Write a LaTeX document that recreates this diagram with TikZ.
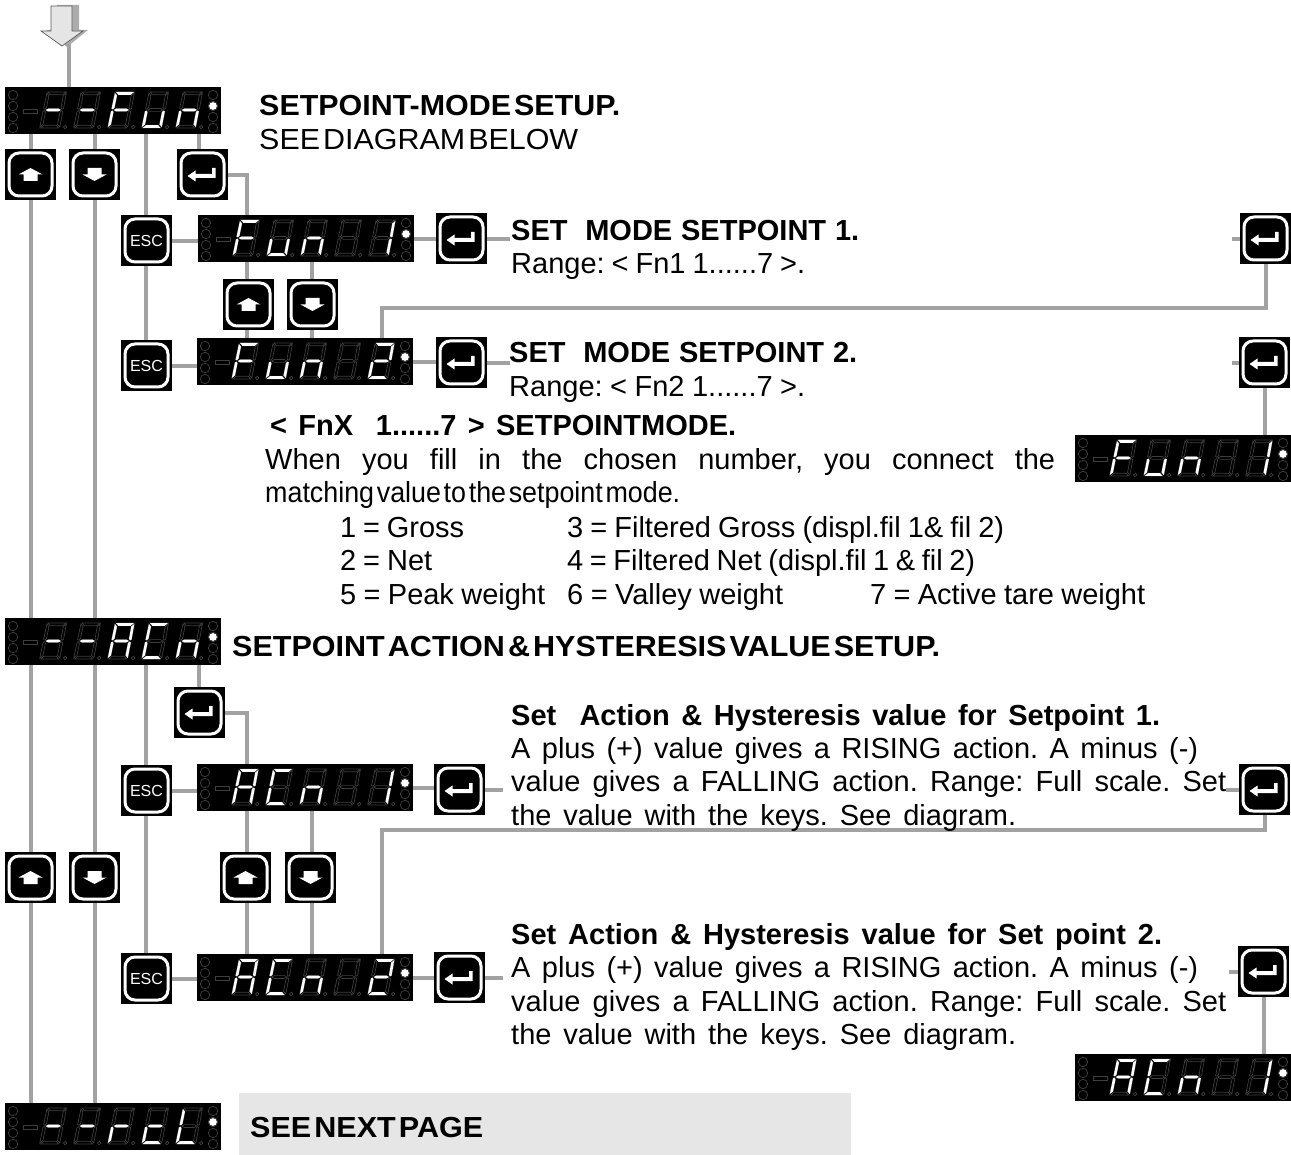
\documentclass[tikz,border=0pt]{standalone}
\usepackage{fontspec}
\usepackage{graphicx}
\setmainfont{Liberation Sans}
\definecolor{conn}{RGB}{162,162,162}
\definecolor{dimseg}{RGB}{62,62,62}
\definecolor{panel}{RGB}{230,230,230}
\tikzset{
  conn/.style={draw=conn,line width=4pt},
  dispbox/.style={fill=black,inner sep=0pt,minimum width=216pt,minimum height=47pt,anchor=north west},
  keybox/.style={fill=black,inner sep=0pt,minimum width=51pt,minimum height=51pt,anchor=north west},
  keyrim/.style={draw=white,line width=3pt,rounded corners=10pt},
  txt/.style={inner sep=0pt,anchor=base west,font=\fontsize{29}{34}\selectfont},
  dimline/.style={draw=dimseg,line width=.7pt},
  litseg/.style={fill=white}
}
\def\sega{(1.5,0)--(19.5,0)--(16.6,2.8)--(4.4,2.8)--cycle}
\def\segd{(0.5,36)--(18.5,36)--(15.6,33.2)--(3.4,33.2)--cycle}
\def\segg{(2.5,18)--(5,16.6)--(15,16.6)--(17.5,18)--(15,19.4)--(5,19.4)--cycle}
\def\segf{(0.6,1)--(3.1,3.6)--(2.8,15.8)--(1.5,17.3)--(0.1,16.6)--cycle}
\def\sege{(0,19.4)--(1.4,18.7)--(2.6,20.2)--(2.3,32.4)--(-0.4,35)--cycle}
\def\segb{(20,1)--(20,16.6)--(18.6,17.3)--(17.4,15.8)--(17.4,3.6)--cycle}
\def\segc{(19.8,19.4)--(19.6,35)--(16.9,32.4)--(17.1,20.2)--(18.2,18.7)--cycle}
\def\segx{(0,0)}
% name, left, top, digit list
\newcommand\dispunit[4]{%
  \node[dispbox] (#1) at (#2,#3) {};
  \begin{scope}[shift={(#2,#3)}]
    \foreach \ly in {8,19,30,41}{%
      \draw[dimline] (8,\ly) circle (4.7pt);
      \draw[dimline] (208,\ly) circle (4.7pt);
    }
    \fill[white] (208,19) circle (3.9pt);
    \draw[dimline] (18,22.5) rectangle (32,26);
    \foreach \dg [count=\di] in {#4}{%
      \begin{scope}[shift={(35+34*\di-34+6.5,5)},xslant=.18]
        \foreach \sn in {a,b,c,d,e,f,g}{\path[dimline] \csname seg\sn\endcsname;}
        \foreach \sn in \dg{\path[litseg] \csname seg\sn\endcsname;}
        \draw[dimline] (25,35) circle (1.8pt);
      \end{scope}
    }
  \end{scope}
}
% name, left, top, glyph
\newcommand\keyunit[4]{%
  \node[keybox] (#1) at (#2,#3) {};
  \begin{scope}[shift={(#2+25.5,#3+25.5)}]
    \draw[keyrim] (-21.5,-21.5) rectangle (21.5,21.5);
    #4
  \end{scope}
}
\newcommand\glyphup{\fill[white] (0,-6.5)--(12,0)--(7,0)--(7,6.5)--(-7,6.5)--(-7,0)--(-12,0)--cycle;}
\newcommand\glyphdown{\fill[white] (0,6.5)--(12,0)--(7,0)--(7,-6.5)--(-7,-6.5)--(-7,0)--(-12,0)--cycle;}
\newcommand\glyphenter{\fill[white] (-15,1.5)--(-7,-4)--(-7,-.5)--(9.5,-.5)--(9.5,-6.5)--(13,-6.5)--(13,3.5)--(-7,3.5)--(-7,7)--cycle;}
\newcommand\glyphesc{\node[inner sep=0pt,text=white,font=\fontsize{16}{16}\selectfont] at (0,0) {ESC};}
\newcommand\upkey[3]{\keyunit{#1}{#2}{#3}{\glyphup}}
\newcommand\downkey[3]{\keyunit{#1}{#2}{#3}{\glyphdown}}
\newcommand\enterkey[3]{\keyunit{#1}{#2}{#3}{\glyphenter}}
\newcommand\esckey[3]{\keyunit{#1}{#2}{#3}{\glyphesc}}
% name, x, baseline y, width, text: word gaps stretched to the width
\newcommand\tline[5]{\node[txt] (#1) at (#2,#3) {\makebox[#4pt][s]{\frenchspacing\spaceskip=.05em plus 1fil\relax #5}};}
% the same with tight word gaps, letters widened to the width
\newcommand\tfit[5]{\node[txt] (#1) at (#2,#3) {\resizebox{#4pt}{\height}{\frenchspacing\spaceskip=.1em\relax #5}};}
\begin{document}
\begin{tikzpicture}[x=1pt,y=-1pt]
\useasboundingbox (0,0) rectangle (1291,1155);
\fill[panel] (239,1093) rectangle (851,1155);
% entry arrow
\fill[gray!65] (57,5)--(79,5)--(79,30)--(88,30)--(67,47)--(46,30)--(57,30)--cycle;
\draw[draw=gray!70!black,fill=gray!20,line width=.7pt] (51,6)--(72,6)--(72,31)--(83,31)--(62,46)--(41,31)--(51,31)--cycle;
\coordinate (tip) at (69,44);
\coordinate (colesc) at (146,0);
\coordinate (colA) at (247,0);
\coordinate (colB) at (312,0);
\coordinate (colL) at (382,0);
\coordinate (colE) at (199,0);
% displays
\dispunit{dFun}{5}{87}{{g},{g},{a,e,f,g},{c,d,e},{c,e,g}}
\dispunit{dFunA}{198}{215}{{a,e,f,g},{c,d,e},{c,e,g},{x},{b,c}}
\dispunit{dFunB}{197}{338}{{a,e,f,g},{c,d,e},{c,e,g},{x},{a,b,g,e,d}}
\dispunit{dFunR}{1075}{435}{{a,e,f,g},{c,d,e},{c,e,g},{x},{b,c}}
\dispunit{dAcn}{5}{618}{{g},{g},{a,b,c,e,f,g},{a,d,e,f},{c,e,g}}
\dispunit{dAcnA}{197}{764}{{a,b,c,e,f,g},{a,d,e,f},{c,e,g},{x},{b,c}}
\dispunit{dAcnB}{197}{954}{{a,b,c,e,f,g},{a,d,e,f},{c,e,g},{x},{a,b,g,e,d}}
\dispunit{dAcnR}{1075}{1054}{{a,b,c,e,f,g},{a,d,e,f},{c,e,g},{x},{b,c}}
\dispunit{dRcl}{5}{1103}{{g},{g},{e,g},{d,e,g},{d,e,f}}
% keys
\upkey{kUa}{5}{149}
\downkey{kDa}{69}{149}
\enterkey{kEa}{177}{149}
\esckey{kXa}{121}{215}
\enterkey{kEb}{436}{213}
\upkey{kUb}{223}{279}
\downkey{kDb}{287}{279}
\esckey{kXb}{121}{340}
\enterkey{kEc}{436}{337}
\enterkey{kEd}{1240}{213}
\enterkey{kEe}{1239}{337}
\enterkey{kEf}{174}{687}
\esckey{kXc}{121}{765}
\enterkey{kEg}{434}{764}
\enterkey{kEh}{1239}{764}
\upkey{kUc}{5}{852}
\downkey{kDc}{69}{852}
\upkey{kUd}{220}{852}
\downkey{kDd}{285}{852}
\esckey{kXd}{121}{953}
\enterkey{kEi}{434}{952}
\enterkey{kEj}{1238}{946}
% connectors
\draw[conn] (tip) -- (dFun.north -| tip);
\foreach \ku/\kd/\ka/\kb in {kUa/kDa/dFun/dAcn,kUc/kDc/dAcn/dRcl}{%
  \draw[conn] (\ka.south -| \ku.center) -- (\ku.north);
  \draw[conn] (\ku.south) -- (\kb.north -| \ku.center);
  \draw[conn] (\ka.south -| \kd.center) -- (\kd.north);
  \draw[conn] (\kd.south) -- (\kb.north -| \kd.center);
}
\draw[conn] (dFun.south -| colesc) -- (kXa.north -| colesc);
\draw[conn] (kXa.south -| colesc) -- (kXb.north -| colesc);
\draw[conn] (dAcn.south -| colesc) -- (kXc.north -| colesc);
\draw[conn] (kXc.south -| colesc) -- (kXd.north -| colesc);
\draw[conn] (dFun.south -| colE) -- (kEa.north -| colE);
\draw[conn] (dAcn.south -| colE) -- (kEf.north -| colE);
\draw[conn] (kEa.east) -- (kEa.east -| colA) -- (dFunA.north -| colA);
\draw[conn] (kEf.east) -- (kEf.east -| colA) -- (dAcnA.north -| colA);
\draw[conn] (kXa.east) -- (kXa.east -| dFunA.west);
\draw[conn] (kXb.east) -- (kXb.east -| dFunB.west);
\draw[conn] (kXc.east) -- (kXc.east -| dAcnA.west);
\draw[conn] (kXd.east) -- (kXd.east -| dAcnB.west);
\draw[conn] (dFunA.east) -- (dFunA.east -| kEb.west);
\draw[conn] (dFunB.east) -- (dFunB.east -| kEc.west);
\draw[conn] (dAcnA.east) -- (dAcnA.east -| kEg.west);
\draw[conn] (dAcnB.east) -- (dAcnB.east -| kEi.west);
\coordinate (sEb) at (510,239);
\coordinate (sEc) at (510,362);
\coordinate (sEg) at (503,789);
\coordinate (sEi) at (503,977);
\coordinate (sEd) at (1232,239);
\coordinate (sEe) at (1232,362);
\coordinate (sEh) at (1226,789);
\coordinate (sEj) at (1229,971);
\draw[conn] (kEb.east) -- (kEb.east -| sEb);
\draw[conn] (kEc.east) -- (kEc.east -| sEc);
\draw[conn] (kEg.east) -- (kEg.east -| sEg);
\draw[conn] (kEi.east) -- (kEi.east -| sEi);
\draw[conn] (kEd.west) -- (kEd.west -| sEd);
\draw[conn] (kEe.west) -- (kEe.west -| sEe);
\draw[conn] (kEh.west) -- (kEh.west -| sEh);
\draw[conn] (kEj.west) -- (kEj.west -| sEj);
\coordinate (rowA) at (0,308);
\coordinate (rowB) at (0,830);
\draw[conn] (kEd.south) -- (kEd.south |- rowA) -- (colL |- rowA) -- (dFunB.north -| colL);
\draw[conn] (kEh.south) -- (kEh.south |- rowB) -- (colL |- rowB) -- (dAcnB.north -| colL);
\draw[conn] (kEe.south) -- (dFunR.north -| kEe.south);
\draw[conn] (kEj.south) -- (dAcnR.north -| kEj.south);
\draw[conn] (dFunA.south -| colA) -- (kUb.north -| colA);
\draw[conn] (kUb.south -| colA) -- (dFunB.north -| colA);
\draw[conn] (dFunA.south -| colB) -- (kDb.north -| colB);
\draw[conn] (kDb.south -| colB) -- (dFunB.north -| colB);
\draw[conn] (dAcnA.south -| colA) -- (kUd.north -| colA);
\draw[conn] (kUd.south -| colA) -- (dAcnB.north -| colA);
\draw[conn] (dAcnA.south -| colB) -- (kDd.north -| colB);
\draw[conn] (kDd.south -| colB) -- (dAcnB.north -| colB);
% texts
\tfit{t1}{259}{116}{361}{\bfseries SETPOINT-MODE SETUP.}
\tfit{t2}{259}{150}{319}{SEE DIAGRAM BELOW}
\tline{t3}{511}{241}{348}{\bfseries SET\ \ MODE SETPOINT 1.}
\tline{t4}{511}{274}{294}{Range: < Fn1 1......7 >.}
\tline{t5}{509}{363}{348}{\bfseries SET\ \ MODE SETPOINT 2.}
\tline{t6}{509}{397}{296}{Range: < Fn2 1......7 >.}
\tline{t7}{270}{436}{466}{\bfseries < FnX\ \ 1......7 > SETPOINTMODE.}
\tline{t8}{265}{470}{790}{When you fill in the chosen number, you connect the}
\tfit{t9}{265}{503}{415}{matching value to the setpoint mode.}
\tline{t10}{340}{537}{124}{1 = Gross}
\tline{t11}{567}{537}{437}{3 = Filtered Gross (displ.fil 1\& fil 2)}
\tline{t12}{340}{570}{92}{2 = Net}
\tline{t13}{567}{570}{408}{4 = Filtered Net (displ.fil 1 \& fil 2)}
\tline{t14}{340}{604}{205}{5 = Peak weight}
\tline{t15}{567}{604}{216}{6 = Valley weight}
\tline{t16}{870}{604}{275}{7 = Active tare weight}
\tfit{t17}{232}{656}{708}{\bfseries SETPOINT ACTION \& HYSTERESIS VALUE SETUP.}
\tline{t18}{511}{725}{649}{\bfseries Set\ \ Action \& Hysteresis value for Setpoint 1.}
\tline{t19}{511}{758}{687}{A plus (+) value gives a RISING action. A minus (-)}
\tline{t20}{511}{791}{715}{value gives a FALLING action. Range: Full scale. Set}
\tline{t21}{511}{825}{505}{the value with the keys. See diagram.}
\tline{t22}{511}{944}{651}{\bfseries Set Action \& Hysteresis value for Set point 2.}
\tline{t23}{511}{977}{687}{A plus (+) value gives a RISING action. A minus (-)}
\tline{t24}{511}{1011}{715}{value gives a FALLING action. Range: Full scale. Set}
\tline{t25}{511}{1044}{505}{the value with the keys. See diagram.}
\tfit{t26}{250}{1137}{233}{\bfseries SEE NEXT PAGE}
\end{tikzpicture}
\end{document}
